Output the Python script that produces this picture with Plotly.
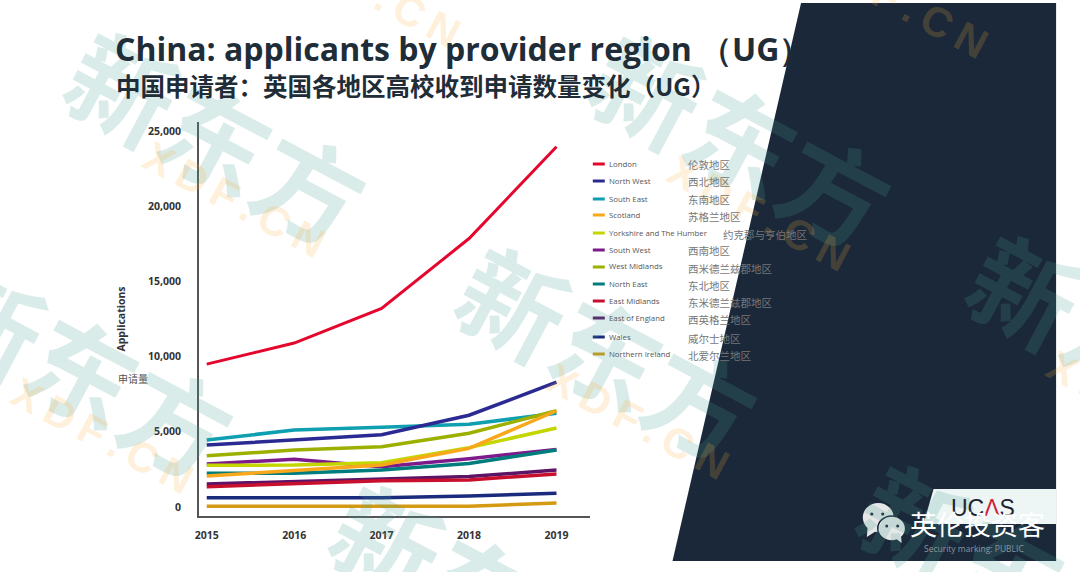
import plotly.graph_objects as go

years = [2015, 2016, 2017, 2018, 2019]
regions = ["London", "North West", "South East", "Scotland", "Yorkshire and The Humber", "South West",
           "West Midlands", "North East", "East Midlands", "East of England", "Wales", "Northern Ireland"]
regions_zh = ["伦敦地区", "西北地区", "东南地区", "苏格兰地区", "约克郡与亨伯地区", "西南地区",
              "西米德兰兹郡地区", "东北地区", "东米德兰兹郡地区", "西英格兰地区", "威尔士地区", "北爱尔兰地区"]
london = [9500, 10900, 13200, 17850, 23950]
north_west = [4120, 4450, 4800, 6100, 8300]
south_east = [4450, 5120, 5300, 5500, 6230]
scotland = [2060, 2420, 2800, 3900, 6400]
yorkshire = [2770, 2790, 2950, 3950, 5250]
south_west = [2860, 3170, 2680, 3210, 3830]
west_midlands = [3400, 3790, 4010, 4900, 6400]
north_east = [2240, 2240, 2460, 2900, 3790]
east_midlands = [1350, 1530, 1750, 1800, 2200]
east_of_england = [1530, 1680, 1880, 2020, 2460]
wales = [620, 620, 620, 730, 910]
northern_ireland = [50, 50, 50, 50, 270]
series = [london, north_west, south_east, scotland, yorkshire, south_west,
          west_midlands, north_east, east_midlands, east_of_england, wales, northern_ireland]
colors = ["#e5062e", "#2b2a92", "#0e9fb0", "#f9a81c", "#c3d600", "#7d1a8c",
          "#9cb000", "#007d7c", "#c8102e", "#5c1566", "#1a2a7c", "#d49a12"]
y_ticks = [0, 5000, 10000, 15000, 20000, 25000]

W, H = 1080, 572
def px(x): return x / W
def py(y): return 1 - y / H

fig = go.Figure()
draw_order = [0, 2, 1, 6, 5, 4, 7, 3, 9, 8, 10, 11]
for i in draw_order:
    fig.add_trace(go.Scatter(x=years, y=series[i], name=regions[i], mode="lines",
                             line=dict(color=colors[i], width=3 if i == 0 else 3.5), showlegend=False))

DARK = "#1b2839"
shapes = []
def paper_path(points):
    return "M " + " L ".join(f"{px(x):.5f},{py(y):.5f}" for x, y in points) + " Z"
shapes.append(dict(type="path", layer="below", xref="paper", yref="paper", line_width=0, fillcolor=DARK,
                   path=paper_path([(800, 3), (1056, 3), (1056, 561), (671, 561)])))
shapes.append(dict(type="path", layer="below", xref="paper", yref="paper", line_width=0, fillcolor="#eef6f5",
                   path=paper_path([(933, 489), (1056, 489), (1056, 524), (923, 524)])))

anns = []
def note(x, y, text, size, color, family="Open Sans", xanchor="center", angle=0, yanchor="middle"):
    anns.append(dict(x=px(x), y=py(y), xref="paper", yref="paper", text=text, showarrow=False,
                     font=dict(size=size, color=color, family=family), xanchor=xanchor, yanchor=yanchor,
                     textangle=angle, align="left"))

# watermark
for cx, cy in [(215, 135), (81, 368), (607, 350), (742, 138), (1120, 338), (481, 588), (1010, 568)]:
    note(cx, cy, "<b>新东方</b>", 106, "rgba(70,160,145,0.2)", "Noto Sans CJK SC", angle=28)
for cx, cy in [(231, 200), (98, 436), (636, 421), (758, 213), (366, -10), (896, 0), (1138, 408)]:
    note(cx, cy, "<b>X\u2009D\u2009F\u2009.\u2009C\u2009N</b>", 42, "rgba(250,175,60,0.2)", "Liberation Sans", angle=28)

# titles
note(109, 49, "<b>China: applicants by provider region （UG）</b>", 32, "#1f2d38", xanchor="left")
note(110, 86, "<b>中国申请者：英国各地区高校收到申请数量变化（UG）</b>", 24.5, "#1f2d38", "Noto Sans CJK SC", xanchor="left")
note(112, 378, "申请量", 10, "#555555", "Noto Sans CJK SC", xanchor="left")

# legend rows
row_y = [164, 181, 199, 215, 233, 250, 267, 284, 301, 318, 337, 354]
for i, name in enumerate(regions):
    y = row_y[i]
    shapes.append(dict(type="line", xref="paper", yref="paper", x0=px(591), x1=px(603), y0=py(y), y1=py(y),
                       line=dict(color=colors[i], width=3)))
    note(605, y - 0.5, name, 7.8, "#555555", xanchor="left")
    note(720 if i == 4 else 685, y + 1, regions_zh[i], 10.5, "#777777", "Noto Sans CJK SC", xanchor="left")

# logo block
note(983, 508, 'UC<span style="color:#d0243c">Λ</span>S', 23, "#1f2430", "Liberation Sans")
note(974, 548, "Security marking: PUBLIC", 8.5, "#8a949f")
shapes.append(dict(type="circle", xref="paper", yref="paper", fillcolor="#e6e6e6", line_width=0,
                   x0=px(862), x1=px(893), y0=py(503), y1=py(532)))
shapes.append(dict(type="path", xref="paper", yref="paper", fillcolor="#e6e6e6", line_width=0,
                   path=paper_path([(867, 525), (866, 537), (877, 530)])))
shapes.append(dict(type="circle", xref="paper", yref="paper", fillcolor="#e6e6e6", line=dict(color=DARK, width=1.5),
                   x0=px(877), x1=px(905), y0=py(516), y1=py(541)))
shapes.append(dict(type="path", xref="paper", yref="paper", fillcolor="#e6e6e6", line_width=0,
                   path=paper_path([(893, 537), (901, 543), (900, 533)])))
for ex, ey, r in [(871, 514, 1.6), (882, 514, 1.6), (886, 526, 1.5), (897, 526, 1.5)]:
    shapes.append(dict(type="circle", xref="paper", yref="paper", fillcolor=DARK, line_width=0,
                       x0=px(ex - r), x1=px(ex + r), y0=py(ey - r), y1=py(ey + r)))
note(907, 523, "英伦投资客", 27, "#ffffff", "Noto Sans CJK SC", xanchor="left")

tick_font = dict(size=10.5, color="#333333", family="Open Sans", weight="bold")
fig.update_layout(
    width=W, height=H, margin=dict(l=0, r=0, t=0, b=0), paper_bgcolor="white", plot_bgcolor="rgba(0,0,0,0)",
    showlegend=False, shapes=shapes, annotations=anns,
    xaxis=dict(domain=[px(195.5), px(588.5)], range=[2014.909, 2019.387], tickvals=years, ticks="", showgrid=False,
               zeroline=False, showline=True, linecolor="#555555", linewidth=1.5, tickfont=tick_font,
               ticklabelstandoff=9),
    yaxis=dict(domain=[py(516), py(122)], range=[-598, 25598], tickvals=y_ticks, tickformat=",", ticks="",
               showgrid=False, zeroline=False, showline=True, linecolor="#555555", linewidth=1.5, tickfont=tick_font,
               ticklabelstandoff=14,
               title=dict(text="<b>Applications</b>", font=dict(size=10.5, color="#333333", family="Open Sans"),
                          standoff=20)),
)
fig.write_html("out.html", post_script="document.body.style.margin='0';", config=dict(displayModeBar=False))
